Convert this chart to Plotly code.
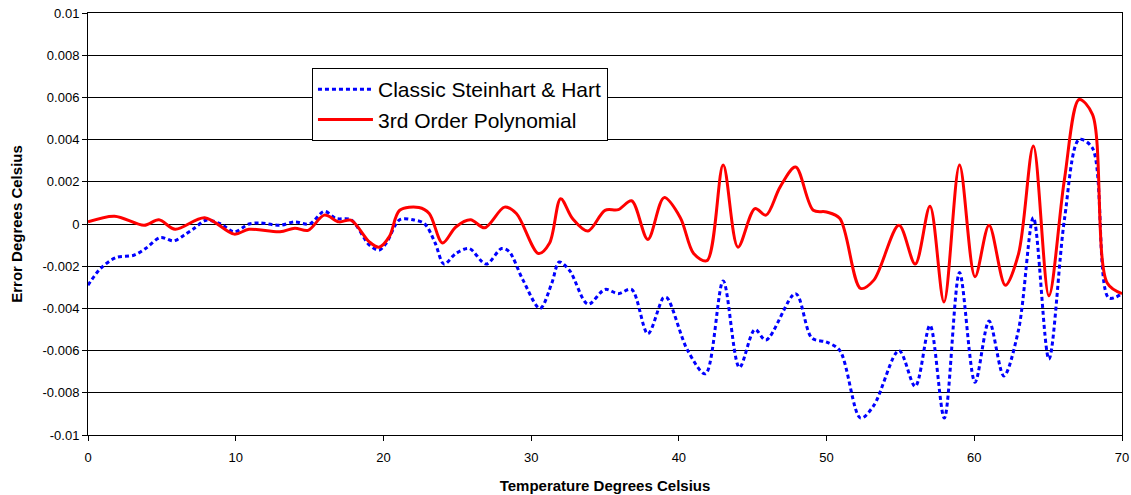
import plotly.graph_objects as go

red_t = [0.0, 1.8, 3.8, 4.8, 5.9, 7.9, 9.9, 10.9, 13.0, 14.0, 14.9, 16.0, 17.0, 17.8, 19.05, 19.7, 20.4,
         21.1, 22.4, 23.1, 24.0, 24.9, 25.9, 26.85, 28.2, 29.0, 30.5, 31.25, 32.0, 32.8, 33.85, 35.0, 35.9,
         36.8, 37.9, 39.0, 40.1, 41.0, 41.9, 43.0, 44.0, 45.15, 45.9, 46.85, 47.9, 49.1, 50.0, 50.9, 52.3,
         53.2, 54.9, 56.0, 57.0, 57.95, 59.0, 60.05, 61.0, 62.1, 63.0, 64.0, 65.05, 66.1, 67.1, 68.0, 69.0, 70.0]
red_e = [0.0001, 0.00037, -0.00006, 0.0002, -0.00025, 0.0003, -0.00048, -0.00025, -0.00037, -0.0002, -0.0003,
         0.00042, 0.0001, 0.00018, -0.00085, -0.0011, -0.0006, 0.00065, 0.00078, 0.0005, -0.0009, -0.00014,
         0.0002, -0.00018, 0.0008, 0.0005, -0.0014, -0.0009, 0.0012, 0.00026, -0.00033, 0.00065, 0.00068,
         0.0011, -0.00073, 0.00125, 0.0003, -0.0014, -0.00174, 0.0028, -0.0011, 0.00073, 0.00042, 0.00175,
         0.0027, 0.00065, 0.00057, 0.00026, -0.00305, -0.00266, -0.00006, -0.0019, 0.00084, -0.0037, 0.0028,
         -0.0025, -0.00006, -0.0029, -0.0014, 0.0037, -0.0034, 0.0021, 0.0059, 0.0052, -0.0028, -0.0033]

blue_t = [0.0, 0.86, 1.87, 3.1, 3.9, 4.9, 5.8, 6.5, 7.2, 8.0, 9.0, 9.9, 10.9, 11.6, 13.0, 14.0, 15.0, 16.0,
          16.8, 17.8, 19.05, 19.7, 20.2, 21.1, 22.0, 22.8, 23.5, 24.1, 24.9, 25.8, 26.95, 28.0, 28.5, 29.45,
          30.6, 31.4, 31.9, 32.6, 33.85, 35.0, 35.9, 36.8, 37.9, 38.95, 39.2, 40.6, 41.8, 43.0, 44.1, 45.15,
          45.9, 47.9, 49.0, 50.0, 50.9, 52.3, 53.2, 54.9, 56.0, 57.0, 57.97, 59.0, 60.05, 61.0, 62.0, 63.0,
          64.0, 65.05, 66.1, 67.1, 68.0, 69.1, 70.0]
blue_e = [-0.0029, -0.0021, -0.0016, -0.00148, -0.00116, -0.00064, -0.0008, -0.00053, -0.0002, 0.00018, 0.0,
          -0.00037, 0.0, 0.00005, -0.00006, 0.0001, 0.0, 0.0006, 0.00026, 0.0002, -0.001, -0.00124, -0.0009,
          0.0002, 0.0002, 0.0, -0.0009, -0.0019, -0.0014, -0.00116, -0.0019, -0.00116, -0.0013, -0.00266,
          -0.004, -0.0028, -0.0018, -0.0022, -0.0038, -0.0031, -0.0033, -0.0031, -0.0052, -0.0035, -0.0035,
          -0.006, -0.0071, -0.0027, -0.0068, -0.005, -0.0055, -0.0033, -0.0054, -0.0056, -0.006, -0.0092,
          -0.0086, -0.006, -0.0077, -0.0048, -0.0092, -0.0023, -0.0075, -0.0046, -0.0072, -0.005, 0.0003,
          -0.0064, 0.0002, 0.004, 0.0036, -0.0035, -0.0033]

x_ticks = [0, 10, 20, 30, 40, 50, 60, 70]
y_ticks = [0.01, 0.008, 0.006, 0.004, 0.002, 0, -0.002, -0.004, -0.006, -0.008, -0.01]
y_labels = ["0.01", "0.008", "0.006", "0.004", "0.002", "0", "-0.002", "-0.004", "-0.006", "-0.008", "-0.01"]

font_family = "Liberation Sans, Arial, sans-serif"

fig = go.Figure()
fig.add_trace(go.Scatter(
    x=blue_t, y=blue_e, mode="lines", name="Classic Steinhart & Hart",
    line=dict(color="#0000FF", width=3, dash="4px,3px", shape="spline", smoothing=0.9),
))
fig.add_trace(go.Scatter(
    x=red_t, y=red_e, mode="lines", name="3rd Order Polynomial",
    line=dict(color="#FF0000", width=3, shape="spline", smoothing=0.9),
))

fig.update_layout(
    width=1131, height=495,
    margin=dict(l=88, r=9, t=13, b=60, autoexpand=False),
    paper_bgcolor="white", plot_bgcolor="white",
    font=dict(family=font_family, size=13, color="black"),
    showlegend=True,
    legend=dict(
        x=0.2166, y=0.8697, xanchor="left", yanchor="top",
        bgcolor="white", bordercolor="black", borderwidth=1,
        font=dict(family=font_family, size=21, color="black"),
        tracegroupgap=0, itemwidth=55,
    ),
    xaxis=dict(
        range=[0, 70], tickvals=x_ticks, ticktext=[str(v) for v in x_ticks],
        showgrid=False, zeroline=False, automargin=False, ticklabeloverflow="allow",
        showline=True, linecolor="black", linewidth=1, mirror=True,
        ticks="outside", ticklen=5, tickcolor="black", ticklabelstandoff=5,
        title=dict(text="<b>Temperature Degrees Celsius</b>", font=dict(size=15), standoff=16),
    ),
    yaxis=dict(
        range=[-0.01, 0.01], tickvals=y_ticks, ticktext=y_labels,
        showgrid=True, gridcolor="black", gridwidth=1, zeroline=False, automargin=False,
        ticklabeloverflow="allow",
        showline=True, linecolor="black", linewidth=1, mirror=True,
        ticks="outside", ticklen=5, tickcolor="black",
        title=dict(text="<b>Error Degrees Celsius</b>", font=dict(size=15), standoff=16),
    ),
)

# remove the default page margin so the 1131x495 figure fills the window exactly
fig.write_html(
    "out.html",
    config={"displayModeBar": False},
    post_script="document.body.style.margin='0';document.body.style.overflow='hidden';",
)
